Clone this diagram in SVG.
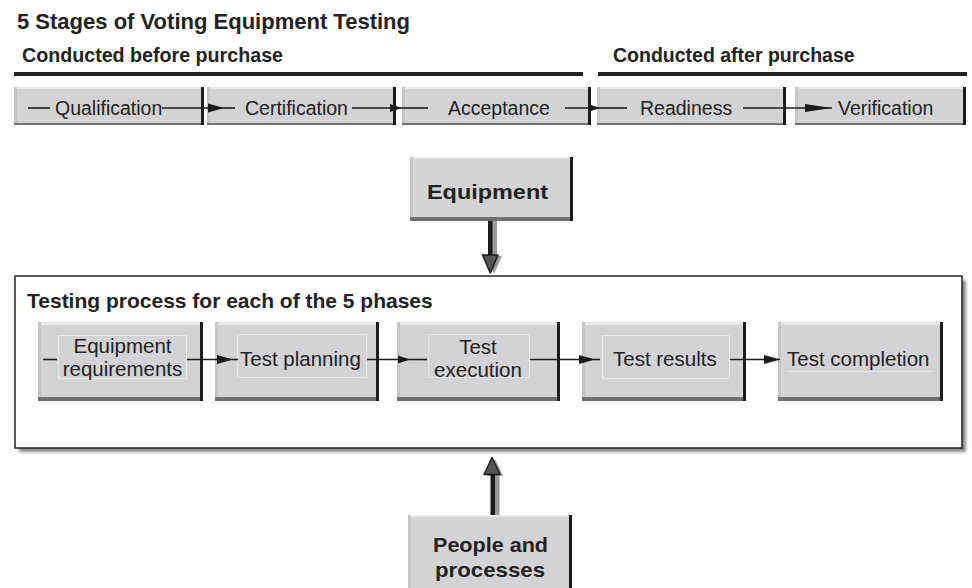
<svg xmlns="http://www.w3.org/2000/svg" width="972" height="588" viewBox="0 0 972 588">
<defs>
<style>
.t{font-family:"Liberation Sans",Arial,Helvetica,sans-serif;fill:#222}
.b{font-weight:bold}
.box{fill:#d3d3d5}
.hi{fill:#e7e7e9}
.lf{fill:#c6c6c8}
.sh{fill:#707072}
.bd{fill:#1c1c1c}
.inr{fill:none;stroke:#e8e8ea;stroke-width:1}
.c{fill:none;stroke:#1c1c1c;stroke-width:1.6}
</style>
<marker id="ah" markerUnits="userSpaceOnUse" markerWidth="16" markerHeight="10" viewBox="0 0 16 10" refX="16" refY="5" orient="auto"><path d="M0,0.5 L16,5 L0,9.5 z" fill="#1c1c1c"/></marker>
<marker id="ahs" markerUnits="userSpaceOnUse" markerWidth="12" markerHeight="9" viewBox="0 0 12 9" refX="12" refY="4.5" orient="auto"><path d="M0,0.5 L12,4.5 L0,8.5 z" fill="#1c1c1c"/></marker>
<marker id="ahl" markerUnits="userSpaceOnUse" markerWidth="27" markerHeight="9" viewBox="0 0 27 9" refX="27" refY="4.5" orient="auto"><path d="M0,0.5 L27,4.5 L0,8.5 z" fill="#1c1c1c"/></marker>
<filter id="blur" x="-5%" y="-5%" width="110%" height="110%"><feGaussianBlur stdDeviation="1.6"/></filter>
</defs>
<rect width="972" height="588" fill="#fff"/>

<g id="title">
<text class="t b" x="17" y="29" font-size="22" textLength="393" lengthAdjust="spacingAndGlyphs">5 Stages of Voting Equipment Testing</text>
</g>
<g id="hdr-before">
<text class="t b" x="22" y="62" font-size="19.5" textLength="261" lengthAdjust="spacingAndGlyphs">Conducted before purchase</text>
<rect x="14" y="72" width="569" height="4" fill="#222"/>
</g>
<g id="hdr-after">
<text class="t b" x="613" y="62" font-size="19.5">Conducted after purchase</text>
<rect x="598" y="72" width="369" height="4" fill="#222"/>
</g>

<!-- stage boxes -->
<g id="stage-qualification">
<rect class="box" x="14" y="87" width="190" height="38"/>
<rect class="hi" x="14" y="87" width="190" height="2"/>
<rect class="lf" x="14" y="87" width="3" height="38"/>
<rect class="sh" x="14" y="123" width="190" height="2"/>
<rect class="bd" x="201" y="87" width="3" height="38"/>
<text class="t" x="55" y="115" font-size="19.5">Qualification</text>
</g>
<g id="stage-certification">
<rect class="box" x="207" y="87" width="189" height="38"/>
<rect class="hi" x="207" y="87" width="189" height="2"/>
<rect class="lf" x="207" y="87" width="3" height="38"/>
<rect class="sh" x="207" y="123" width="189" height="2"/>
<rect class="bd" x="393" y="87" width="3" height="38"/>
<text class="t" x="245" y="115" font-size="19.5">Certification</text>
</g>
<g id="stage-acceptance">
<rect class="box" x="402" y="87" width="189" height="38"/>
<rect class="hi" x="402" y="87" width="189" height="2"/>
<rect class="lf" x="402" y="87" width="3" height="38"/>
<rect class="sh" x="402" y="123" width="189" height="2"/>
<rect class="bd" x="588" y="87" width="3" height="38"/>
<text class="t" x="448" y="115" font-size="19.5">Acceptance</text>
</g>
<g id="stage-readiness">
<rect class="box" x="597" y="87" width="189" height="38"/>
<rect class="hi" x="597" y="87" width="189" height="2"/>
<rect class="lf" x="597" y="87" width="3" height="38"/>
<rect class="sh" x="597" y="123" width="189" height="2"/>
<rect class="bd" x="783" y="87" width="3" height="38"/>
<text class="t" x="640" y="115" font-size="19.5">Readiness</text>
</g>
<g id="stage-verification">
<rect class="box" x="795" y="87" width="171" height="38"/>
<rect class="hi" x="795" y="87" width="171" height="2"/>
<rect class="lf" x="795" y="87" width="3" height="38"/>
<rect class="sh" x="795" y="123" width="171" height="2"/>
<rect class="bd" x="963" y="87" width="3" height="38"/>
<text class="t" x="838" y="115" font-size="19.5">Verification</text>
</g>

<!-- Equipment -->
<g id="equipment">
<rect class="box" x="410" y="157" width="163" height="64"/>
<rect class="hi" x="410" y="157" width="163" height="2"/>
<rect class="lf" x="410" y="157" width="3" height="64"/>
<rect class="sh" x="410" y="217" width="163" height="4"/>
<rect class="bd" x="570" y="157" width="3" height="64"/>
<text class="t b" x="487.5" y="199" font-size="21" text-anchor="middle" textLength="121" lengthAdjust="spacingAndGlyphs">Equipment</text>
</g>

<!-- Testing process container -->
<g id="testing-process">
<rect x="19" y="280" width="947" height="172" fill="#8a8a8a" filter="url(#blur)"/>
<rect x="15" y="276" width="947" height="172" fill="#fff" stroke="#222" stroke-width="1.5"/>
<text class="t b" x="27" y="308" font-size="21">Testing process for each of the 5 phases</text>
</g>

<g id="p-equipment-requirements">
<rect class="box" x="38" y="322" width="165" height="79"/>
<rect class="hi" x="38" y="322" width="165" height="3"/>
<rect class="lf" x="38" y="322" width="3" height="79"/>
<rect class="sh" x="38" y="397" width="165" height="4"/>
<rect class="bd" x="200" y="322" width="3" height="79"/>
<rect class="inr" x="58.5" y="335.5" width="128" height="43"/>
<text class="t" x="122.5" y="353" font-size="20.5" text-anchor="middle">Equipment</text>
<text class="t" x="122.5" y="376" font-size="20.5" text-anchor="middle">requirements</text>
</g>
<g id="p-test-planning">
<rect class="box" x="215" y="322" width="164" height="79"/>
<rect class="hi" x="215" y="322" width="164" height="3"/>
<rect class="lf" x="215" y="322" width="3" height="79"/>
<rect class="sh" x="215" y="397" width="164" height="4"/>
<rect class="bd" x="376" y="322" width="3" height="79"/>
<rect class="inr" x="237.5" y="334.5" width="129" height="43"/>
<text class="t" x="240" y="366" font-size="20.5">Test planning</text>
</g>
<g id="p-test-execution">
<rect class="box" x="397" y="322" width="163" height="79"/>
<rect class="hi" x="397" y="322" width="163" height="3"/>
<rect class="lf" x="397" y="322" width="3" height="79"/>
<rect class="sh" x="397" y="397" width="163" height="4"/>
<rect class="bd" x="557" y="322" width="3" height="79"/>
<rect class="inr" x="428.5" y="334.5" width="101" height="43"/>
<text class="t" x="478" y="354" font-size="20.5" text-anchor="middle">Test</text>
<text class="t" x="478" y="377" font-size="20.5" text-anchor="middle">execution</text>
</g>
<g id="p-test-results">
<rect class="box" x="582" y="322" width="164" height="79"/>
<rect class="hi" x="582" y="322" width="164" height="3"/>
<rect class="lf" x="582" y="322" width="3" height="79"/>
<rect class="sh" x="582" y="397" width="164" height="4"/>
<rect class="bd" x="743" y="322" width="3" height="79"/>
<rect class="inr" x="602.5" y="335.5" width="127" height="43"/>
<text class="t" x="613" y="366" font-size="20.5">Test results</text>
</g>
<g id="p-test-completion">
<rect class="box" x="778" y="322" width="165" height="79"/>
<rect class="hi" x="778" y="322" width="165" height="3"/>
<rect class="lf" x="778" y="322" width="3" height="79"/>
<rect class="sh" x="778" y="397" width="165" height="4"/>
<rect class="bd" x="940" y="322" width="3" height="79"/>
<line x1="787" y1="371.5" x2="934" y2="371.5" stroke="#e8e8ea" stroke-width="1"/>
<text class="t" x="787" y="366" font-size="20.5">Test completion</text>
</g>

<!-- People and processes -->
<g id="people-processes">
<rect class="box" x="408" y="515" width="164" height="80"/>
<rect class="hi" x="408" y="515" width="164" height="2"/>
<rect class="lf" x="408" y="515" width="3" height="80"/>
<rect class="bd" x="569" y="515" width="3" height="80"/>
<text class="t b" x="490.5" y="552" font-size="21" text-anchor="middle" textLength="115" lengthAdjust="spacingAndGlyphs">People and</text>
<text class="t b" x="490" y="577" font-size="21" text-anchor="middle" textLength="110" lengthAdjust="spacingAndGlyphs">processes</text>
</g>

<g id="connectors">
<!-- stage row -->
<path class="c" d="M28,108 H50"/>
<path class="c" d="M162,108 H224" marker-end="url(#ah)"/>
<path class="c" d="M224,108 H235"/>
<path class="c" d="M352,108 H402" marker-end="url(#ahs)"/>
<path class="c" d="M402,108 H428"/>
<path class="c" d="M565,108 H600" marker-end="url(#ahs)"/>
<path class="c" d="M600,108 H627"/>
<path class="c" d="M743,108 H832" marker-end="url(#ahl)"/>
<!-- inner row -->
<path class="c" d="M43,359.5 H57"/>
<path class="c" d="M187,359.5 H233" marker-end="url(#ah)"/>
<path class="c" d="M233,359.5 H238"/>
<path class="c" d="M367,359.5 H410" marker-end="url(#ahs)"/>
<path class="c" d="M410,359.5 H427"/>
<path class="c" d="M530,359.5 H595" marker-end="url(#ah)"/>
<path class="c" d="M595,359.5 H600"/>
<path class="c" d="M730,359.5 H780" marker-end="url(#ah)"/>
<!-- equipment down arrow -->
<rect x="492" y="221" width="5" height="36" fill="#9a9a9c"/>
<polygon points="486,256 502,256 494,274" fill="#9a9a9c"/>
<rect x="488" y="221" width="4.5" height="36" fill="#1c1c1c"/>
<polygon points="482.5,255 498,255 490.3,273" fill="#555" stroke="#1c1c1c" stroke-width="1.5" stroke-linejoin="round"/>
<!-- people up arrow -->
<rect x="494.5" y="474" width="5" height="41" fill="#9a9a9c"/>
<polygon points="487,476 503,476 495,459" fill="#9a9a9c"/>
<rect x="490.5" y="474" width="4.5" height="41" fill="#1c1c1c"/>
<polygon points="484,474.5 500,474.5 492,457.5" fill="#555" stroke="#1c1c1c" stroke-width="1.5" stroke-linejoin="round"/>
</g>
</svg>
